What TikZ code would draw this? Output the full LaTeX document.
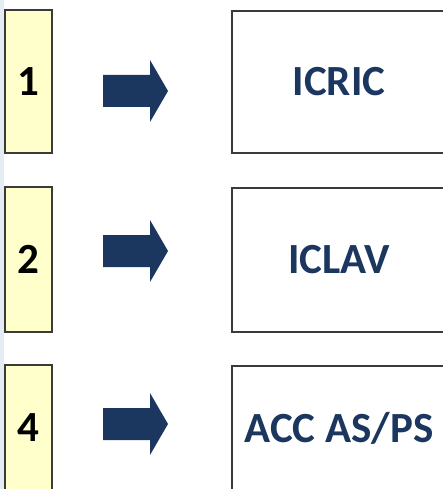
\documentclass[tikz,border=0pt]{standalone}
\usepackage{fontspec}
\setmainfont{Carlito}
\definecolor{navy}{HTML}{1B365F}
\definecolor{padyellow}{HTML}{FFFFCC}
\definecolor{edgegray}{HTML}{3A3A3A}
\definecolor{stripblue}{HTML}{E6ECF3}
\begin{document}
\begin{tikzpicture}[x=1pt,y=-1pt]

        \useasboundingbox (0,0) rectangle (443,489);
        \fill[stripblue] (0,0) rectangle (4,489);

        \begin{scope}[every node/.style={draw=edgegray,line width=1.3pt,inner sep=0pt,
                      font=\bfseries\fontsize{43}{43}\selectfont}]
          \node[fill=padyellow,minimum width=47,minimum height=143] (num1) at (28.5,81.5)  {1};
          \node[fill=padyellow,minimum width=47,minimum height=145] (num2) at (28.5,259.5) {2};
          \node[fill=padyellow,minimum width=47,minimum height=125] (num4) at (28.5,427.5) {4};
          \node[fill=white,text=navy,minimum width=214,minimum height=142] (icric) at (339,82)    {ICRIC};
          \node[fill=white,text=navy,minimum width=214,minimum height=144] (iclav) at (339,260)   {ICLAV};
          \node[fill=white,text=navy,minimum width=214,minimum height=124] (accas) at (339,428)   {ACC AS/PS};
        \end{scope}

        % block arrows
        \foreach \ay in {91,251,424}
          \fill[navy] (103,\ay-16) -- (150,\ay-16) -- (150,\ay-31) -- (168,\ay)
                      -- (150,\ay+31) -- (150,\ay+16) -- (103,\ay+16) -- cycle;

      \end{tikzpicture}
\end{document}
